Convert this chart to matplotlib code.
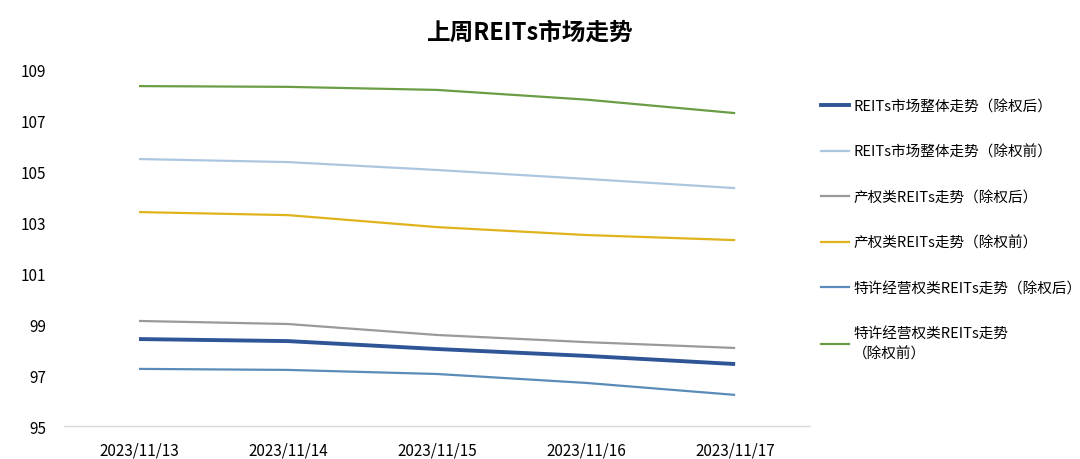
import matplotlib
matplotlib.use("Agg")
import matplotlib.pyplot as plt
from matplotlib.lines import Line2D

plt.rcParams['font.family'] = ['Noto Sans CJK SC', 'DejaVu Sans']

dates = ["2023/11/13", "2023/11/14", "2023/11/15", "2023/11/16", "2023/11/17"]
series_names = [
    "REITs市场整体走势（除权后）",
    "REITs市场整体走势（除权前）",
    "产权类REITs走势（除权后）",
    "产权类REITs走势（除权前）",
    "特许经营权类REITs走势（除权后）",
    "特许经营权类REITs走势\n（除权前）",
]
overall_adj = [98.41, 98.33, 98.02, 97.75, 97.43]
overall_raw = [105.47, 105.35, 105.04, 104.69, 104.33]
property_adj = [99.12, 99.00, 98.57, 98.29, 98.06]
property_raw = [103.39, 103.27, 102.80, 102.49, 102.29]
franchise_adj = [97.24, 97.20, 97.04, 96.69, 96.22]
franchise_raw = [108.33, 108.30, 108.18, 107.80, 107.27]
yticks = [95, 97, 99, 101, 103, 105, 107, 109]

series = [overall_adj, overall_raw, property_adj, property_raw, franchise_adj, franchise_raw]
colors = ["#2f5597", "#adc6df", "#9a9a9a", "#e0b21c", "#5b8bb8", "#6b9d45"]
widths = [2.8, 1.6, 1.6, 1.6, 1.6, 1.6]

fig = plt.figure(figsize=(10.8, 4.6), dpi=100)
ax = fig.add_axes([0.0597, 0.0717, 0.69, 0.7761])

x = list(range(len(dates)))
for vals, c, w in zip(series, colors, widths):
    ax.plot(x, vals, color=c, linewidth=w, solid_capstyle='butt')

ax.set_xlim(-0.5, len(dates) - 0.5)
ax.set_ylim(95, 109)
ax.set_yticks(yticks)
ax.set_yticklabels([str(t) for t in yticks], fontsize=11)
ax.set_xticks(x)
ax.set_xticklabels(dates, fontsize=11)
ax.tick_params(axis='y', length=0, pad=13)
ax.tick_params(axis='x', length=0, pad=11)
for s in ['top', 'right', 'left']:
    ax.spines[s].set_visible(False)
ax.spines['bottom'].set_color('#d9d9d9')
ax.spines['bottom'].set_linewidth(1.0)

fig.text(0.491, 0.93, "上周REITs市场走势", fontsize=17, fontweight='bold',
         ha='center', va='center')

handles = [Line2D([0], [0], color=c, linewidth=w) for c, w in zip(colors, widths)]
leg = fig.legend(handles, series_names, loc='upper left',
                 bbox_to_anchor=(0.748, 0.811), frameon=False, fontsize=10.5,
                 labelspacing=2.15, handlelength=1.9, handletextpad=0.3)
for t in leg.get_texts():
    t.set_linespacing(1.5)

fig.savefig("out.png", dpi=100)
